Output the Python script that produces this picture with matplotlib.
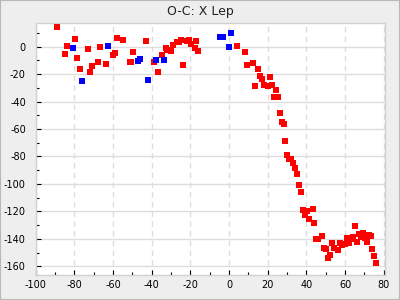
import numpy as np
import matplotlib
matplotlib.use("Agg")
from matplotlib import pyplot as plt
from matplotlib.ticker import MultipleLocator
from matplotlib.patches import Rectangle

# O-C values (days)
red_x = [-89.0, -83.8, -84.9, -79.7, -78.7, -77.1, -73.0, -71.9, -70.9, -67.8,
         -66.8, -63.7, -60.1, -59.0, -58.0, -54.9, -51.3, -50.7, -49.7, -43.0,
         -38.9, -36.8, -34.7, -32.7, -32.1, -30.1, -29.0, -27.0, -25.9, -24.9,
         -23.9, -21.8, -20.8, -19.7, -17.2, -17.7, -16.1,
         4.0, 8.2, 9.2, 12.3, 14.9, 15.9, 17.0, 13.3, 18.0, 20.1, 21.1, 22.1,
         24.2, 23.2, 25.2, 26.3, 27.3, 28.3, 28.8, 29.9, 30.9, 31.9, 33.0,
         34.0, 35.0, 36.1, 37.1, 38.1, 39.2, 40.2, 41.2, 43.3, 43.8, 44.9,
         45.9, 48.0, 49.0, 50.0, 51.1, 52.1, 53.1, 54.2, 56.2, 57.3, 58.3,
         59.8, 60.9, 61.9, 62.9, 64.0, 65.0, 66.0, 67.1, 68.1, 69.1, 70.2,
         71.2, 72.2, 73.3, 73.8, 74.8, 75.9]
red_y = [14.6, 0.7, -5.1, 5.9, -8.1, -16.1, -1.5, -18.3, -13.9, -11.0,
         0.0, -12.4, -5.9, -4.4, 6.6, 5.1, -11.0, -11.0, -3.7, 4.4,
         -11.0, -18.3, -5.9, -0.7, -2.2, -2.9, 1.5, 3.7, 3.7, 5.1,
         -13.2, 4.4, 5.1, 2.2, 4.4, -0.7, -2.9,
         0.7, -3.7, -13.2, -11.7, -16.1, -21.2, -23.4, -28.6, -27.8, -28.6, -22.0, -27.8,
         -31.5, -36.6, -36.6, -48.3, -54.9, -56.4, -68.8, -79.1, -82.0, -82.0, -84.9,
         -88.6, -93.0, -101.0, -106.2, -119.3, -123.0, -120.0, -125.9, -118.6, -128.8, -139.8,
         -139.8, -137.6, -146.4, -147.1, -153.7, -151.5, -142.8, -146.4, -147.9, -142.8, -144.2,
         -143.5, -139.1, -142.8, -139.8, -138.4, -130.3, -142.0, -136.2, -138.4, -135.4, -139.1,
         -142.0, -136.9, -137.6, -147.1, -152.3, -157.4]

blue_x = [-80.7, -76.1, -62.6, -47.1, -46.1, -42.0, -37.8, -33.7, -4.5, -3.0, 0.9, -0.1]
blue_y = [-0.7, -24.9, 0.7, -10.2, -8.8, -24.2, -9.5, -9.5, 7.3, 7.3, 10.2, 0.0]

plt.rcParams['axes.unicode_minus'] = False

fig = plt.figure(figsize=(4, 3), dpi=100, facecolor='#eeeeee')
fig.patches.append(Rectangle((0, 0), 1, 1, transform=fig.transFigure, fill=False,
                             edgecolor='#b8b8b8', linewidth=1.5))
ax = fig.add_axes([0.089, 0.085, 0.873, 0.837])
ax.set_facecolor('white')

ax.plot(red_x, red_y, 's', color='#ff0000', markersize=4.3, markeredgewidth=0, zorder=3)
ax.plot(blue_x, blue_y, 's', color='#0000ff', markersize=4.3, markeredgewidth=0, zorder=3)

ax.set_xlim(-100, 80.5)
ax.set_ylim(-166, 17)
ax.xaxis.set_major_locator(MultipleLocator(20))
ax.xaxis.set_minor_locator(MultipleLocator(10))
ax.yaxis.set_major_locator(MultipleLocator(20))
ax.yaxis.set_minor_locator(MultipleLocator(10))

ax.grid(axis='y', which='major', color='#dddddd', linewidth=1.0, linestyle='-')
ax.grid(axis='x', which='major', color='#dddddd', linewidth=1.0, linestyle=(0, (4, 3)))
ax.set_axisbelow(True)

ax.tick_params(which='both', direction='in', color='black', width=0.8, labelsize=7)
ax.tick_params(which='major', length=3.5)
ax.tick_params(which='minor', length=2)
ax.tick_params(axis='y', pad=7)
ax.tick_params(axis='x', pad=4)

for s in ax.spines.values():
    s.set_color('#d0d0d0')
    s.set_linewidth(1.0)

fig.text(0.5, 0.962, "O-C: X Lep", ha='center', va='center', fontsize=9, color='#222222')

fig.savefig("out.png", dpi=100, facecolor=fig.get_facecolor())
